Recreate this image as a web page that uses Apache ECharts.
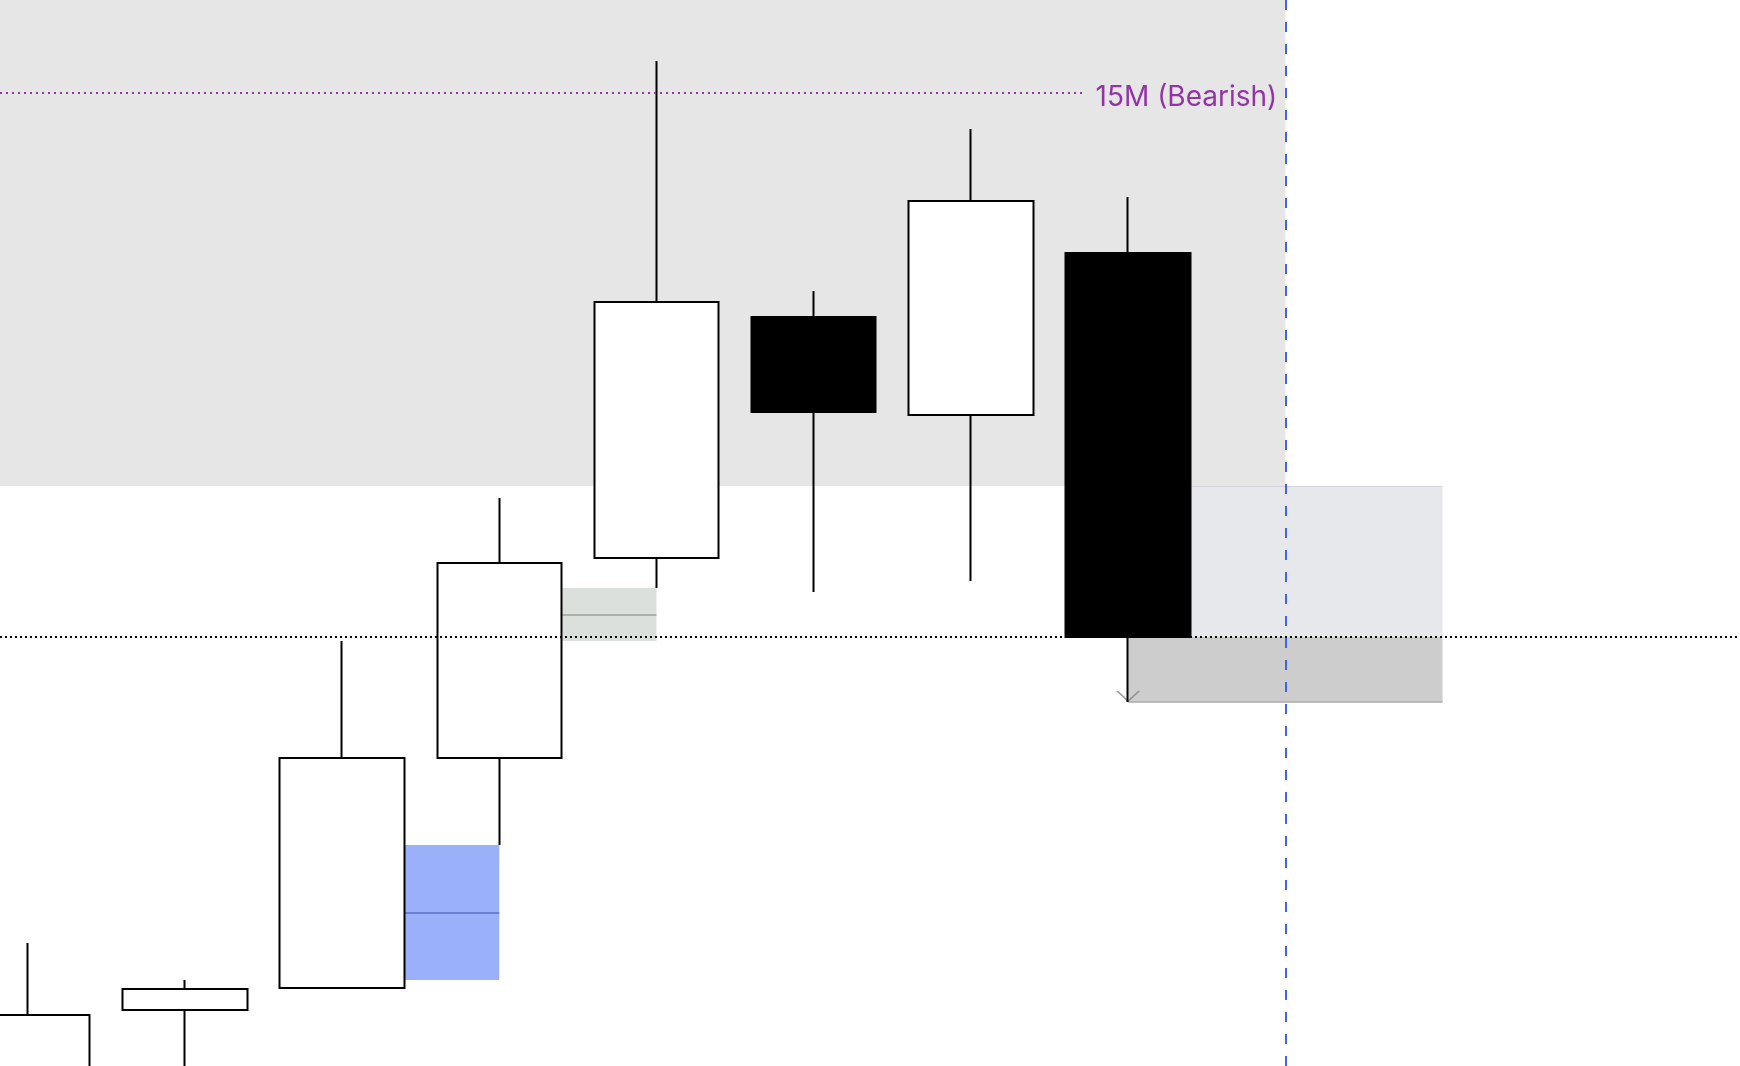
<!DOCTYPE html>
<html>
<head>
<meta charset="utf-8">
<script src="https://cdn.jsdelivr.net/npm/echarts@6/dist/echarts.min.js"></script>
<style>
  html, body { margin: 0; padding: 0; background: #ffffff; }
  #chart { width: 1740px; height: 1066px; }
</style>
</head>
<body>
<div id="chart"></div>
<script>
// ---- data ----
const barIndex = [0, 1, 2, 3, 4, 5, 6, 7];
const opens  = [-10.0, 5.6, 7.8, 30.8, 50.8, 74.9, 65.1, 81.3];
const closes = [5.1, 7.7, 30.8, 50.3, 76.4, 65.4, 86.5, 42.9];
const lows   = [-15.0, -10.0, 7.8, 22.1, 47.8, 47.4, 48.5, 36.4];
const highs  = [12.3, 8.6, 42.5, 56.8, 100.5, 77.5, 93.7, 86.9];

// key levels
const bearishLevel = 97.3;            // 15M (Bearish) level
const bearishLabel = '15M (Bearish)';
const bearishLineEnd = 6.71;          // bar position where the level line stops
const closeLevel = 42.9;              // last close level
const premiumBottom = 58.0;           // bottom of premium (grey) zone
const sweepLow = 36.4;                // last bar low
const currentBar = 8;                 // dashed vertical marker
const zoneStart = 7;
const zoneEnd = 9;

// fair value gaps: [startBar, endBar, top, bottom]
const fvgBlue  = [2.4, 3, 22.1, 8.6];
const fvgGreen = [3.4, 4, 47.8, 42.5];

// axis extent (bar units / price units)
const xMin = -0.176, xMax = 10.892;
const yMin = 0, yMax = 106.6;

const candleData = barIndex.map((x, i) => [x, opens[i], closes[i], lows[i], highs[i]]);
const mid = a => (a[2] + a[3]) / 2;

const chart = echarts.init(document.getElementById('chart'), null, { renderer: 'canvas' });
chart.setOption({
  animation: false,
  backgroundColor: '#ffffff',
  grid: { left: 0, right: 0, top: 0, bottom: 0 },
  xAxis: { type: 'value', min: xMin, max: xMax, show: false, splitLine: { show: false } },
  yAxis: { type: 'value', min: yMin, max: yMax, show: false, splitLine: { show: false }, scale: true },
  series: [
    {
      // background zones
      type: 'line', data: [], silent: true,
      markArea: {
        z: 0, silent: true,
        data: [
          [ { coord: [xMin, premiumBottom], itemStyle: { color: '#e6e6e6' } }, { coord: [currentBar, yMax] } ],
          [ { coord: [zoneStart, closeLevel], itemStyle: { color: '#e7e8ec' } }, { coord: [zoneEnd, premiumBottom] } ],
          [ { coord: [zoneStart, sweepLow], itemStyle: { color: '#cdcdcd' } }, { coord: [zoneEnd, closeLevel] } ],
          [ { coord: [fvgBlue[0], fvgBlue[3]], itemStyle: { color: '#9ab0f8' } }, { coord: [fvgBlue[1], fvgBlue[2]] } ],
          [ { coord: [fvgGreen[0], fvgGreen[3]], itemStyle: { color: '#dce0dc' } }, { coord: [fvgGreen[1], fvgGreen[2]] } ]
        ]
      },
      markLine: {
        z: 1, silent: true, symbol: ['none', 'none'], label: { show: false },
        data: [
          [ { coord: [fvgBlue[0], mid(fvgBlue)], lineStyle: { color: '#5a72c6', width: 1.5, type: 'solid' } }, { coord: [fvgBlue[1], mid(fvgBlue)] } ],
          [ { coord: [fvgGreen[0], mid(fvgGreen)], lineStyle: { color: '#9ea29e', width: 1.5, type: 'solid' } }, { coord: [fvgGreen[1], mid(fvgGreen)] } ],
          [ { coord: [zoneStart, premiumBottom], lineStyle: { color: '#d3d4d9', width: 1, type: 'solid' } }, { coord: [zoneEnd, premiumBottom] } ],
          [ { coord: [zoneStart, sweepLow], lineStyle: { color: '#ababab', width: 1.5, type: 'solid' } }, { coord: [zoneEnd, sweepLow] } ]
        ]
      }
    },
    {
      // sweep marker under the last low
      type: 'scatter', z: 1, silent: true,
      data: [[barIndex[7], lows[7]]],
      symbol: 'path://M0,0 L10,9 L20,0',
      symbolSize: [22, 10],
      symbolOffset: [0, -6],
      itemStyle: { color: 'transparent', borderColor: '#8a8a8a', borderWidth: 1.5 }
    },
    {
      type: 'candlestick', z: 3,
      data: candleData,
      encode: { x: 0, y: [1, 2, 3, 4] },
      barWidth: 125,
      clip: true,
      itemStyle: {
        color: '#ffffff', color0: '#000000',
        borderColor: '#000000', borderColor0: '#000000',
        borderWidth: 2
      }
    },
    {
      // level lines on top
      type: 'line', data: [], silent: true,
      markLine: {
        z: 6, silent: true, symbol: ['none', 'none'],
        label: { show: false },
        data: [
          { yAxis: closeLevel, lineStyle: { color: '#000000', width: 2, type: [2, 3] } },
          [
            {
              coord: [xMin, bearishLevel],
              lineStyle: { color: '#9234a8', width: 2, type: [2, 4] },
              label: {
                show: true, position: 'end', distance: 13,
                offset: [0, 5],
                formatter: bearishLabel, color: '#9234a8',
                fontSize: 28, fontFamily: 'Inter, "Noto Sans", sans-serif'
              }
            },
            { coord: [bearishLineEnd, bearishLevel] }
          ],
          { xAxis: currentBar, lineStyle: { color: '#3d64f2', width: 2, type: [10, 12] } }
        ]
      }
    }
  ]
});
</script>
</body>
</html>
